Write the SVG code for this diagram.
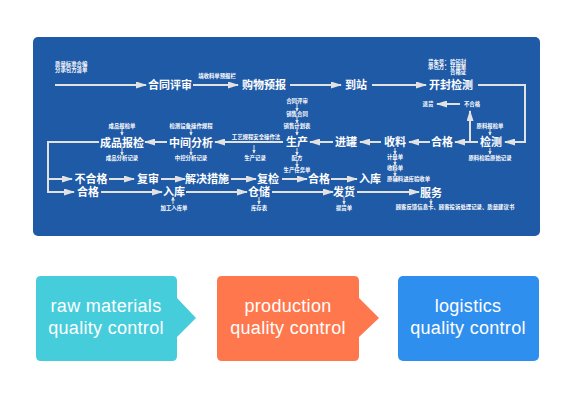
<svg xmlns="http://www.w3.org/2000/svg" width="575" height="407" viewBox="0 0 575 407">
<defs>
<style>
.b{font-family:'Liberation Sans','Noto Sans CJK SC',sans-serif;font-weight:bold;font-size:11px;fill:#fff;text-anchor:middle}
.s{font-family:'Liberation Sans','Noto Sans CJK SC',sans-serif;font-weight:bold;font-size:5.4px;fill:#fff;text-anchor:middle}
.l{text-anchor:start}
.c{fill:none;stroke:#e2e2e2;stroke-width:2}
.t{fill:none;stroke:#e2e2e2;stroke-width:1}
.e{font-family:'Liberation Sans',Arial,sans-serif;font-size:18px;letter-spacing:0.3px;fill:#fff;text-anchor:middle}
</style>
<marker id="ah" markerUnits="userSpaceOnUse" markerWidth="11" markerHeight="7" refX="10" refY="3.5" orient="auto"><path d="M0,0 L11,3.5 L0,7 z" fill="#e2e2e2"/></marker>
<marker id="as" markerUnits="userSpaceOnUse" markerWidth="4" markerHeight="4" refX="3.5" refY="2" orient="auto"><path d="M0,0 L4,2 L0,4 z" fill="#e2e2e2"/></marker>
</defs>
<rect x="33" y="37" width="507" height="199" rx="5" fill="#1f5aa7"/>
<g id="connectors">
<path class="c" d="M55,85 H146" marker-end="url(#ah)"/>
<path class="c" d="M193,85 H238" marker-end="url(#ah)"/>
<path class="c" d="M290,85 H341" marker-end="url(#ah)"/>
<path class="c" d="M372,85 H426" marker-end="url(#ah)"/>
<path class="c" d="M478,85 H525 V142 H505" marker-end="url(#ah)"/>
<path class="c" d="M470,142 V111" marker-end="url(#ah)"/>
<path class="c" d="M460,104 H437" marker-end="url(#ah)"/>
<path class="c" d="M478,142 H455" marker-end="url(#ah)"/>
<path class="c" d="M430,142 H409" marker-end="url(#ah)"/>
<path class="c" d="M381,142 H360" marker-end="url(#ah)"/>
<path class="c" d="M333,142 H310" marker-end="url(#ah)"/>
<path class="c" d="M283,142 H215" marker-end="url(#ah)"/>
<path class="c" d="M167,142 H145" marker-end="url(#ah)"/>
<path class="c" d="M99,142 H48 V192 H74" marker-end="url(#ah)"/>
<path class="c" d="M48,179 H72" marker-end="url(#ah)"/>
<path class="c" d="M109,179 H134" marker-end="url(#ah)"/>
<path class="c" d="M161,179 H185" marker-end="url(#ah)"/>
<path class="c" d="M231,179 H256" marker-end="url(#ah)"/>
<path class="c" d="M282,179 H307" marker-end="url(#ah)"/>
<path class="c" d="M331,179 H357" marker-end="url(#ah)"/>
<path class="c" d="M101,192 H162" marker-end="url(#ah)"/>
<path class="c" d="M186,192 H247" marker-end="url(#ah)"/>
<path class="c" d="M272,192 H333" marker-end="url(#ah)"/>
<path class="c" d="M357,192 H419" marker-end="url(#ah)"/>
<path class="t" d="M490,129 V135" marker-end="url(#as)"/>
<path class="t" d="M490,148 V154" marker-end="url(#as)"/>
<path class="t" d="M395,148 V154" marker-end="url(#as)"/>
<path class="t" d="M395,159 V165" marker-end="url(#as)"/>
<path class="t" d="M395,170 V176" marker-end="url(#as)"/>
<path class="t" d="M297,103 V111" marker-end="url(#as)"/>
<path class="t" d="M297,116 V123" marker-end="url(#as)"/>
<path class="t" d="M297,128 V135" marker-end="url(#as)"/>
<path class="t" d="M297,148 V155" marker-end="url(#as)"/>
<path class="t" d="M297,160 V167" marker-end="url(#as)"/>
<path class="t" d="M254,145 V153" marker-end="url(#as)"/>
<path class="t" d="M191,128 V135" marker-end="url(#as)"/>
<path class="t" d="M191,148 V155" marker-end="url(#as)"/>
<path class="t" d="M122,128 V135" marker-end="url(#as)"/>
<path class="t" d="M122,148 V155" marker-end="url(#as)"/>
<path class="t" d="M173,204 V197" marker-end="url(#as)"/>
<path class="t" d="M259,197 V204" marker-end="url(#as)"/>
<path class="t" d="M344,197 V204" marker-end="url(#as)"/>
<path class="t" d="M431,199 V204" marker-end="url(#as)"/>
</g>
<g id="n-start"><text class="s l" x="55" y="66">质量标准合编</text><text class="s l" x="55" y="72">分承包方清单</text></g>
<g id="n-hetong"><text class="b" x="170" y="89">合同评审</text></g>
<g id="n-tian"><text class="s" x="217" y="78">填收料单预报栏</text></g>
<g id="n-gouwu"><text class="b" x="264" y="89">购物预报</text></g>
<g id="n-daozhan"><text class="b" x="356" y="89">到站</text></g>
<g id="n-kaifeng"><text class="b" x="451" y="89">开封检测</text>
<text class="s l" x="428" y="64">货车号：</text><text class="s l" x="450" y="64">验铅封</text>
<text class="s l" x="428" y="69">承包方：</text><text class="s l" x="450" y="69">计量单</text>
<text class="s l" x="450" y="74">合格证</text></g>
<g id="n-tuihuo"><text class="s" x="428" y="106">退货</text></g>
<g id="n-buhege1"><text class="s" x="472" y="106">不合格</text></g>
<g id="n-jiance"><text class="s" x="490" y="128">原料报检单</text><text class="b" x="491" y="146">检测</text><text class="s" x="490" y="160">原料检验原始记录</text></g>
<g id="n-hege1"><text class="b" x="442" y="146">合格</text></g>
<g id="n-shouliao"><text class="b" x="395" y="146">收料</text><text class="s" x="395" y="159">计量单</text><text class="s" x="395" y="170">收料单</text><text class="s l" x="387" y="181">原辅料进库验收单</text></g>
<g id="n-jinguan"><text class="b" x="346" y="146">进罐</text></g>
<g id="n-shengchan"><text class="s" x="297" y="103">合同评审</text><text class="s" x="297" y="116">销售合同</text><text class="s" x="297" y="128">销售计划表</text><text class="b" x="297" y="146">生产</text><text class="s" x="297" y="160">配方</text><text class="s" x="297" y="172">生产任务单</text></g>
<g id="n-gongyi"><text class="s" x="256" y="139">工艺规程安全操作法</text><text class="s" x="255" y="160">生产记录</text></g>
<g id="n-zhongjian"><text class="s" x="191" y="128">检测设备操作规程</text><text class="b" x="191" y="147">中间分析</text><text class="s" x="191" y="160">中控分析记录</text></g>
<g id="n-chengpin"><text class="s" x="122" y="128">成品报检单</text><text class="b" x="122" y="147">成品报检</text><text class="s" x="122" y="160">成品分析记录</text></g>
<g id="n-buhege2"><text class="b" x="91" y="183">不合格</text></g>
<g id="n-fushen"><text class="b" x="148" y="183">复审</text></g>
<g id="n-jiejue"><text class="b" x="207" y="183">解决措施</text></g>
<g id="n-fujian"><text class="b" x="268" y="183">复检</text></g>
<g id="n-hege2"><text class="b" x="319" y="183">合格</text></g>
<g id="n-ruku1"><text class="b" x="370" y="183">入库</text></g>
<g id="n-hege3"><text class="b" x="88" y="196">合格</text></g>
<g id="n-ruku2"><text class="b" x="174" y="196">入库</text><text class="s" x="174" y="210">加工入库单</text></g>
<g id="n-cangchu"><text class="b" x="259" y="196">仓储</text><text class="s" x="259" y="210">库存表</text></g>
<g id="n-fahuo"><text class="b" x="344" y="196">发货</text><text class="s" x="344" y="210">提货单</text></g>
<g id="n-fuwu"><text class="b" x="431" y="197">服务</text><text class="s" x="455" y="209">顾客反馈信息卡、顾客投诉处理记录、质量建议书</text></g>
<g id="box-raw"><path d="M41,276 H172 Q177,276 177,281 V298 L196,318 L177,337 V356 Q177,361 172,361 H41 Q36,361 36,356 V281 Q36,276 41,276 Z" fill="#45cddc"/><text class="e" x="106" y="312">raw materials</text><text class="e" x="106" y="334">quality control</text></g>
<g id="box-prod"><path d="M222,276 H354 Q359,276 359,281 V298 L379,318 L359,337 V356 Q359,361 354,361 H222 Q217,361 217,356 V281 Q217,276 222,276 Z" fill="#ff774c"/><text class="e" x="288" y="312">production</text><text class="e" x="288" y="334">quality control</text></g>
<g id="box-log"><rect x="398" y="276" width="141" height="85" rx="5" fill="#2f8fef"/><text class="e" x="468" y="312">logistics</text><text class="e" x="468" y="334">quality control</text></g>
</svg>
